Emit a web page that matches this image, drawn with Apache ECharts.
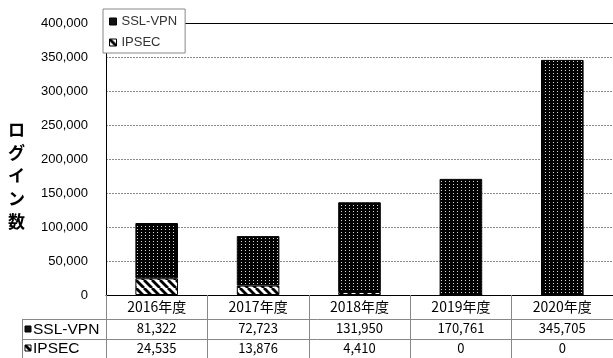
<!DOCTYPE html>
<html>
<head>
<meta charset="utf-8">
<script src="https://cdn.jsdelivr.net/npm/echarts@6/dist/echarts.min.js"></script>
<style>
  html, body { margin: 0; padding: 0; background: #fff; }
  #chart { width: 613px; height: 358px; }
</style>
</head>
<body>
<div id="chart"></div>
<script>
// Fiscal years and login counts per connection method
const categories = ['2016年度', '2017年度', '2018年度', '2019年度', '2020年度'];
const sslVpn = [81322, 72723, 131950, 170761, 345705];
const ipsec = [24535, 13876, 4410, 0, 0];
const seriesNames = ['SSL-VPN', 'IPSEC'];
const yMax = 400000;
const yStep = 50000;

const fmt = n => n.toLocaleString('en-US');
const FONT = '"Liberation Sans", "Noto Sans CJK JP", sans-serif';
const JP = '"Noto Sans CJK JP", "Liberation Sans", sans-serif';

// Black fill with a fine grid of light dots
function dotPattern() {
  const c = document.createElement('canvas');
  c.width = 4; c.height = 3;
  const g = c.getContext('2d');
  g.fillStyle = '#000';
  g.fillRect(0, 0, 4, 3);
  g.fillStyle = '#d8d8d8';
  g.fillRect(1, 1, 1, 1);
  return c;
}

// White fill with black back-slash stripes
function stripePattern() {
  const s = 8;
  const c = document.createElement('canvas');
  c.width = s; c.height = s;
  const g = c.getContext('2d');
  g.fillStyle = '#fff';
  g.fillRect(0, 0, s, s);
  g.strokeStyle = '#000';
  g.lineWidth = 2.8;
  for (let k = -2; k <= 2; k++) {
    g.beginPath();
    g.moveTo(k * s, 0);
    g.lineTo(k * s + s, s);
    g.stroke();
  }
  return c;
}

const dots = dotPattern();
const stripes = stripePattern();

const chart = echarts.init(document.getElementById('chart'), null, { renderer: 'canvas' });

chart.setOption({
  animation: false,
  backgroundColor: '#fff',
  grid: { left: 106, right: 0, top: 23, bottom: 63, containLabel: false },
  legend: {
    orient: 'vertical',
    left: 103,
    top: 9,
    padding: [6, 8, 4, 6],
    itemGap: 8,
    itemWidth: 7,
    itemHeight: 7,
    backgroundColor: '#fff',
    borderColor: '#888',
    borderWidth: 1,
    borderRadius: 0,
    textStyle: { fontFamily: FONT, fontSize: 13, color: '#333' },
    data: [
      { name: seriesNames[0], icon: 'rect', itemStyle: { color: '#111', borderColor: '#000', borderWidth: 1 } },
      { name: seriesNames[1], icon: 'rect', itemStyle: { color: { image: stripes, repeat: 'repeat' }, borderColor: '#000', borderWidth: 1 } }
    ]
  },
  xAxis: [
    {
      type: 'category',
      data: categories,
      axisLine: { show: true, lineStyle: { color: '#000', width: 1 } },
      axisTick: { show: true, length: 63, inside: false, alignWithLabel: false, interval: 0, lineStyle: { color: '#888', width: 1 } },
      axisLabel: {
        interval: 0,
        margin: 1,
        color: '#000',
        formatter: (value, idx) =>
          '{a|' + value + '}\n{b|' + fmt(sslVpn[idx]) + '}\n{c|' + fmt(ipsec[idx]) + '}',
        rich: {
          a: { fontFamily: JP, fontSize: 14, lineHeight: 22, color: '#000' },
          b: { fontFamily: JP, fontSize: 13, lineHeight: 20, color: '#000' },
          c: { fontFamily: JP, fontSize: 13, lineHeight: 20, color: '#000' }
        }
      },
      splitLine: { show: false }
    },
    {
      // frame line along the top of the plot
      type: 'category',
      data: categories,
      position: 'top',
      axisLine: { show: true, lineStyle: { color: '#000', width: 1 } },
      axisTick: { show: false },
      axisLabel: { show: false },
      splitLine: { show: false }
    }
  ],
  yAxis: {
    type: 'value',
    min: 0,
    max: yMax,
    interval: yStep,
    axisLine: { show: true, lineStyle: { color: '#000', width: 1 } },
    axisTick: { show: false },
    axisLabel: { margin: 18, fontFamily: FONT, fontSize: 13, color: '#000', formatter: v => fmt(v) },
    splitLine: { show: true, lineStyle: { color: '#8a8a8a', width: 1, type: [2, 1] } }
  },
  series: [
    {
      name: seriesNames[1],
      type: 'bar',
      stack: 'logins',
      barWidth: '42%',
      data: ipsec,
      itemStyle: { color: { image: stripes, repeat: 'repeat' }, borderColor: '#000', borderWidth: 1 }
    },
    {
      name: seriesNames[0],
      type: 'bar',
      stack: 'logins',
      barWidth: '42%',
      data: sslVpn,
      itemStyle: { color: { image: dots, repeat: 'repeat' }, borderColor: '#000', borderWidth: 1 }
    }
  ],
  graphic: [
    {
      type: 'text',
      left: 8,
      top: 118,
      style: {
        text: 'ロ\nグ\nイ\nン\n数',
        font: 'bold 17px ' + JP,
        lineHeight: 23,
        fill: '#000',
        textAlign: 'left'
      }
    },
    // data table: row rules and row-header cell
    { type: 'line', shape: { x1: 22, y1: 319.5, x2: 613, y2: 319.5 }, style: { stroke: '#888', lineWidth: 1 } },
    { type: 'line', shape: { x1: 22, y1: 339.5, x2: 613, y2: 339.5 }, style: { stroke: '#888', lineWidth: 1 } },
    { type: 'line', shape: { x1: 22.5, y1: 319, x2: 22.5, y2: 358 }, style: { stroke: '#888', lineWidth: 1 } },
    { type: 'rect', shape: { x: 25, y: 326, width: 6, height: 6 }, style: { fill: '#111', stroke: '#000', lineWidth: 1 } },
    { type: 'rect', shape: { x: 25, y: 345, width: 6, height: 6 }, style: { fill: { image: stripes, repeat: 'repeat' }, stroke: '#000', lineWidth: 1 } },
    { type: 'text', x: 33, y: 329.5, style: { text: seriesNames[0], font: '15.5px ' + FONT, fill: '#000', textVerticalAlign: 'middle' } },
    { type: 'text', x: 33, y: 349, style: { text: seriesNames[1], font: '15.5px ' + FONT, fill: '#000', textVerticalAlign: 'middle' } }
  ]
});
</script>
</body>
</html>
